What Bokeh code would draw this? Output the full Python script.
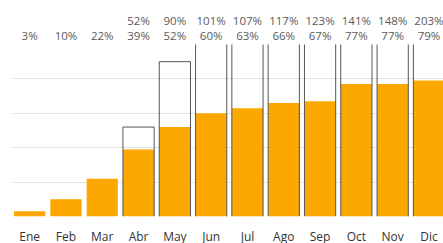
from bokeh.plotting import figure
from bokeh.models import ColumnDataSource, Range1d, FixedTicker
from bokeh.layouts import column
from bokeh.transform import dodge
from bokeh.core.properties import value
from bokeh.embed import file_html
from bokeh.resources import INLINE

months = ["Ene", "Feb", "Mar", "Abr", "May", "Jun", "Jul", "Ago", "Sep", "Oct", "Nov", "Dic"]
actual = [3, 10, 22, 39, 52, 60, 63, 66, 67, 77, 77, 79]
target = [None, None, None, 52, 90, 101, 107, 117, 123, 141, 148, 203]

Y_MAX = 100
BAR_W = 0.86

idx = list(range(len(months)))
src = ColumnDataSource(dict(x=idx, actual=actual, lbl=[f"{v}%" for v in actual]))
tx = [i for i, t in zip(idx, target) if t is not None]
tv = [t for t in target if t is not None]
tsrc = ColumnDataSource(dict(x=tx, target=tv, zero=[0] * len(tx), lbl=[f"{v}%" for v in tv]))
# top edges only for outlines that end inside the visible range
vis = [(i, t) for i, t in zip(tx, tv) if t <= Y_MAX]
ttop = ColumnDataSource(dict(x=[i for i, _ in vis], target=[t for _, t in vis]))

xr = Range1d(-0.5, 11.4)

# label strip above the chart
top = figure(frame_width=432, frame_height=44, output_backend="svg", toolbar_location=None,
             x_range=xr, y_range=Range1d(0, 44),
             min_border_left=11, min_border_right=0, min_border_top=0, min_border_bottom=0)
top.axis.visible = False
top.grid.visible = False
top.outline_line_color = None
ROW1, ROW2 = 24, 8.7
src.data["ly"] = [ROW2] * len(idx)
tsrc.data["ly"] = [ROW1] * len(tx)
for s in (src, tsrc):
    top.text(x="x", y="ly", text="lbl", source=s, text_align="center",
             text_baseline="middle", text_font=value("Open Sans"),
             text_font_size="11.5px", text_color="#5a5a5a")

p = figure(frame_width=432, frame_height=172, output_backend="svg", toolbar_location=None,
           x_range=xr, y_range=Range1d(0, Y_MAX),
           min_border_left=11, min_border_right=0, min_border_top=0, min_border_bottom=0)
p.outline_line_color = None
p.yaxis.visible = False
p.ygrid.ticker = FixedTicker(ticks=[20, 40, 60, 80, 100])
p.ygrid.grid_line_color = "#e3e3e3"
p.xgrid.grid_line_color = None

p.vbar(x="x", top="actual", width=BAR_W, source=src, fill_color="#FCA800", line_color=None)

outline = dict(line_color="#555555", line_width=1)
for off in (-BAR_W / 2, BAR_W / 2):
    p.segment(x0=dodge("x", off), y0="zero", x1=dodge("x", off), y1="target",
              source=tsrc, **outline)
p.segment(x0=dodge("x", -BAR_W / 2), y0="target", x1=dodge("x", BAR_W / 2), y1="target",
          source=ttop, **outline)

xa = p.xaxis[0]
xa.ticker = FixedTicker(ticks=idx)
xa.major_label_overrides = {i: m for i, m in zip(idx, months)}
xa.axis_line_color = None
xa.major_tick_line_color = None
xa.minor_tick_line_color = None
xa.major_tick_out = 0
xa.major_tick_in = 0
xa.major_label_text_font = "Open Sans"
xa.major_label_text_font_size = "12px"
xa.major_label_text_color = "#333333"
xa.major_label_standoff = 11

layout = column(top, p, spacing=0)
open("out.html", "w").write(file_html(layout, INLINE))
